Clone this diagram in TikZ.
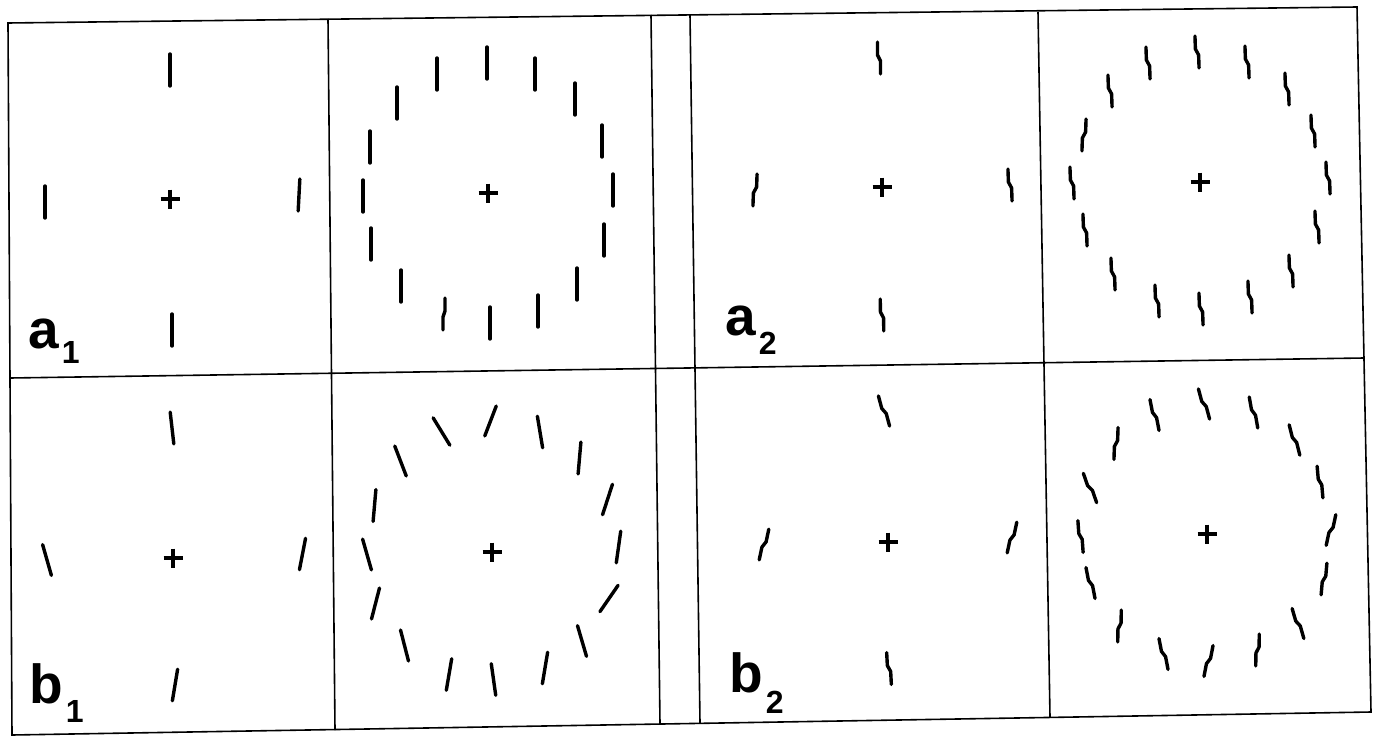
\documentclass[tikz,border=0pt]{standalone}
\usepackage{fontspec}
\newfontfamily\labfont{Liberation Sans}
\newcommand\sg[4]{\begin{scope}[shift={(#1,#2)},rotate={-(#3)}]\draw[elem] ({-0.5*(#4)},-16) -- ({-0.5*(#4)},-3) -- ({0.5*(#4)},3) -- ({0.5*(#4)},16);\end{scope}}
\newcommand\pl[2]{\draw[pluss] (#1-9.5,#2) -- (#1+9.5,#2) (#1,#2-9.5) -- (#1,#2+9.5);}
\begin{document}
\begin{tikzpicture}[x=1pt,y=-1pt,
  frame/.style={line width=1.6pt},
  elem/.style={line width=3.4pt, line cap=round, line join=round},
  pluss/.style={line width=3.4pt},
  lab/.style={inner sep=0pt, anchor=base west, font=\labfont\bfseries}]
\useasboundingbox (0,0) rectangle (1379,736);
% frame
\coordinate (tl) at (8,23);
\coordinate (tr) at (1357,7);
\coordinate (bl) at (12,735);
\coordinate (br) at (1371,712);
\coordinate (ml) at (10,378);
\coordinate (mr) at (1364,358);
\draw[frame] (tl) -- (tr) -- (br) -- (bl) -- cycle;
\draw[frame] (ml) -- (mr);
\coordinate (v1t) at (328,19);  \coordinate (v1b) at (335,730);
\coordinate (v2t) at (651,15);  \coordinate (v2b) at (660,724);
\coordinate (v3t) at (690,15);  \coordinate (v3b) at (700,723);
\coordinate (v4t) at (1038,12); \coordinate (v4b) at (1050,717);
\draw[frame] (v1t) -- (v1b) (v2t) -- (v2b) (v3t) -- (v3b) (v4t) -- (v4b);
% a1
\pl{170}{199}
\sg{170}{70}{0}{0}
\sg{45}{202}{0}{0}
\sg{299}{195}{3}{0}
\sg{172}{330}{0}{0}
\node[lab] (la1) at (28,348) {\fontsize{55}{55}\selectfont a\hspace{3pt}\raisebox{-15pt}{\fontsize{32}{32}\selectfont 1}};
% a1 ring
\pl{488}{193}
\foreach \x/\y/\d in {487/63/0,535/74/0,575/99/0,602/141/0,613/190/0,604/240/0,577/284/0,538/311/0,490/323/0,444/314/-2,401/286/0,371/244/0,363/196/0,370/147/0,397/103/0,437/74/0}
  {\sg{\x}{\y}{0}{\d}}
% a2
\pl{882}{187}
\sg{879}{58}{0}{3}
\sg{755}{190}{2}{-3}
\sg{1010}{185}{-2}{3}
\sg{882}{315}{-1}{3}
\node[lab] (la2) at (725,335) {\fontsize{55}{55}\selectfont a\hspace{3pt}\raisebox{-19pt}{\fontsize{32}{32}\selectfont 2}};
% a2 ring
\pl{1200}{182}
\foreach \x/\y/\t/\d in {1197/52/-2/3,1247/62/-2/3,1287/89/-2/3,1313/131/-2/3,1328/178/-2/3,1317/227/-2/3,1291/271/-2/3,1250/297/-2/3,1201/309/-2/3,1157/301/-2/3,1113/274/-2/3,1085/230/-2/3,1072/183/-2/3,1084/135/2/-3,1110/91/-2/3,1148/63/-2/3}
  {\sg{\x}{\y}{\t}{\d}}
% b1
\pl{173}{558}
\sg{172}{428}{-6.5}{0}
\sg{47}{560}{-16}{0}
\sg{302.5}{554}{11}{0}
\sg{175}{685}{9.5}{0}
\node[lab] (lb1) at (29,703) {\fontsize{55}{55}\selectfont b\hspace{3pt}\raisebox{-19pt}{\fontsize{32}{32}\selectfont 1}};
% b1 ring
\pl{492}{552}
\foreach \x/\y/\t in {490.5/421/21,540/432/-9.5,579.5/458/5,607.5/499.5/18,618.5/547/8,609/598.5/34.6,582/641/-16.4,545/668/9.5,493.5/679.5/-8,449/674.5/9.7,404.5/645.5/-14.4,375.5/603.5/14.4,367/554.5/-16,374.5/505.5/5,400.5/461/-21,441.5/431.5/-31.5}
  {\sg{\x}{\y}{\t}{0}}
% b2
\pl{888}{542}
\sg{884}{411}{-15}{3}
\sg{764}{544.5}{12}{-3}
\sg{1012}{537.5}{12}{-3}
\sg{889}{668.5}{-3}{3}
\node[lab] (lb2) at (729,692) {\fontsize{55}{55}\selectfont b\hspace{3pt}\raisebox{-21pt}{\fontsize{32}{32}\selectfont 2}};
% b2 ring
\pl{1207}{534}
\foreach \x/\y/\t/\d in {1204/404/-15/3,1253.5/412.5/-10/3,1294.5/440/-14/3,1320/482/-5/3,1331/530/12/-3,1324/579/5/-3,1298/623.5/-16/3,1257.5/650/1/-3,1208.5/661/11/-3,1163.5/654/-11/3,1119.5/626/1/-3,1090.5/583/-11/3,1080.5/536.5/-4/3,1090/488/-19/3,1116/443.5/2/-3,1154.5/415/-11/3}
  {\sg{\x}{\y}{\t}{\d}}
\end{tikzpicture}
\end{document}
